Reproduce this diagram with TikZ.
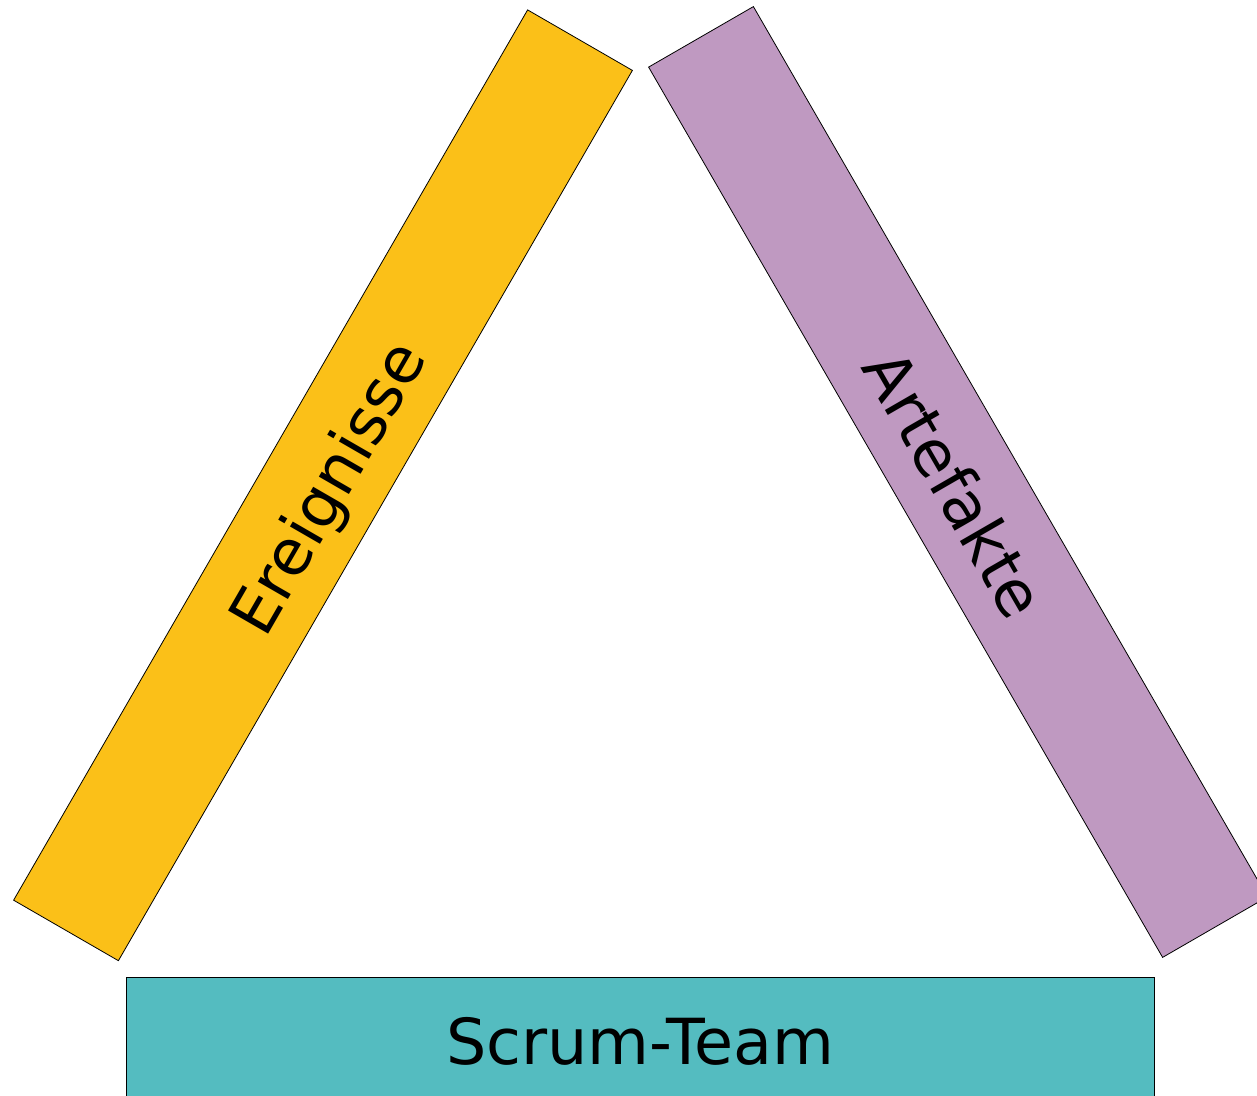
\documentclass[tikz,border=0pt]{standalone}
\usepackage{fontspec}
\setmainfont{DejaVu Sans}
\definecolor{barYellow}{RGB}{251,192,24}
\definecolor{barPurple}{RGB}{191,153,193}
\definecolor{barTeal}{RGB}{84,188,192}
\begin{document}
\begin{tikzpicture}[x=1pt,y=1pt,
  bar/.style={draw=black,line width=0.8pt,rectangle,minimum width=1028pt,minimum height=121pt,inner sep=0pt,
    font=\fontsize{63.5}{76}\selectfont,text height=54.6pt,text depth=0pt}]
\useasboundingbox (0,0) rectangle (1257,1095);
\clip (0,0) rectangle (1257,1095);
\node[bar,fill=barYellow,rotate=60] (ereignisse) at (323,609.7) {Ereignisse};
\node[bar,fill=barPurple,rotate=-60] (artefakte) at (958,613) {Artefakte};
\node[bar,fill=barTeal] (team) at (640.3,57.5) {Scrum-Team};
\end{tikzpicture}
\end{document}
